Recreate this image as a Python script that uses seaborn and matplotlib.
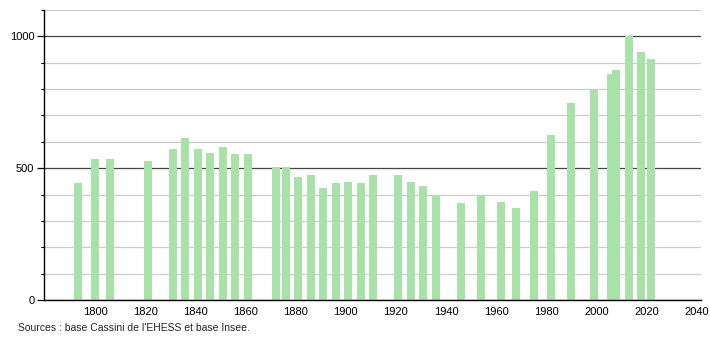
import matplotlib
matplotlib.use("Agg")
import matplotlib.pyplot as plt
import seaborn as sns
import pandas as pd
from matplotlib.ticker import MultipleLocator, FixedLocator

years = [1793, 1800, 1806, 1821, 1831, 1836, 1841, 1846, 1851, 1856, 1861,
         1872, 1876, 1881, 1886, 1891, 1896, 1901, 1906, 1911, 1921, 1926,
         1931, 1936, 1946, 1954, 1962, 1968, 1975, 1982, 1990, 1999, 2006,
         2008, 2013, 2018, 2022]
population = [445, 535, 535, 527, 574, 616, 573, 559, 582, 555, 555,
              503, 506, 468, 476, 426, 445, 449, 445, 476, 476, 449,
              433, 397, 367, 397, 372, 348, 413, 625, 748, 798, 859,
              873, 1000, 939, 915]
x_ticks = [1800, 1820, 1840, 1860, 1880, 1900, 1920, 1940, 1960, 1980, 2000, 2020, 2040]
y_ticks = [0, 500, 1000]
source_text = "Sources : base Cassini de l'EHESS et base Insee."

sns.set_style("white")
plt.rcParams['font.family'] = ['Liberation Sans', 'DejaVu Sans']

df = pd.DataFrame({"year": years, "pop": population})

fig = plt.figure(figsize=(7.1, 3.4), dpi=100)
ax = fig.add_axes([44 / 710, 40 / 340, 657 / 710, 290 / 340])

ax.set_axisbelow(True)
ax.yaxis.set_minor_locator(MultipleLocator(100))
ax.yaxis.set_major_locator(FixedLocator(y_ticks))
ax.grid(which="minor", axis="y", color="#cccccc", linewidth=0.9)
ax.grid(which="major", axis="y", color="#444444", linewidth=0.9)

sns.barplot(data=df, x="year", y="pop", native_scale=True, width=1.6,
            color="#a9e2a9", saturation=1, linewidth=0, edgecolor="none",
            ax=ax, zorder=2)

ax.set_xlim(1779.6, 2041.8)
ax.set_ylim(0, 1100)
ax.set_xticks(x_ticks)
ax.set_xticklabels([str(t) for t in x_ticks])
ax.set_xlabel("")
ax.set_ylabel("")

for s in ["top", "right"]:
    ax.spines[s].set_visible(False)
for s in ["left", "bottom"]:
    ax.spines[s].set_color("black")
    ax.spines[s].set_linewidth(1.0)

ax.tick_params(axis="x", which="both", length=0, labelsize=8, pad=5, colors="black")
ax.tick_params(axis="y", which="major", length=5, width=0.9, labelsize=8, pad=2, colors="black", left=True)
ax.tick_params(axis="y", which="minor", length=2.5, width=0.8, colors="black", left=True)

fig.text(18 / 710, 1 - 328 / 340, source_text, fontsize=7.5, va="center", ha="left")

fig.savefig("out.png", dpi=100)
